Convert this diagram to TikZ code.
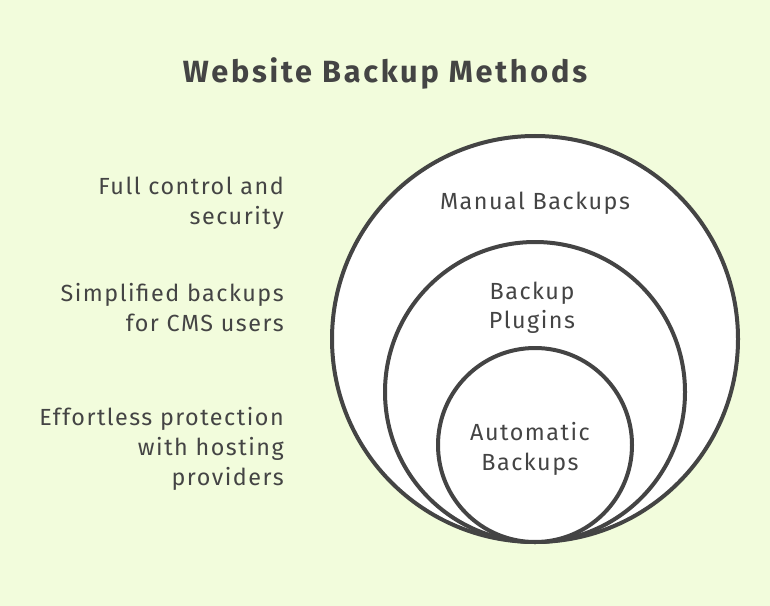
\documentclass[tikz,border=0pt]{standalone}
\usepackage{fontspec}
\setmainfont{Fira Sans}
\definecolor{bgc}{RGB}{242,252,220}
\definecolor{ink}{RGB}{68,68,68}
\begin{document}
\begin{tikzpicture}[x=0.75pt,y=-0.75pt,
  ring/.style={draw=ink,line width=3pt,fill=white},
  lbl/.style={text=ink,font=\fontsize{17.5}{22}\selectfont\addfontfeature{LetterSpace=6.5},align=center},
  side/.style={text=ink,font=\fontsize{17.5}{22.5}\selectfont\addfontfeature{LetterSpace=6.5},align=right,anchor=east,inner sep=0pt},
  ttl/.style={text=ink,font=\fontsize{23}{25}\selectfont\bfseries\addfontfeature{LetterSpace=9}}]
\fill[bgc] (0,0) rectangle (770,606);
\useasboundingbox (0,0) rectangle (770,606);
\node[ttl] (title) at (385,73) {Website Backup Methods};
\draw[ring] (535,339) circle[radius=203];
\draw[ring] (535,392) circle[radius=150];
\draw[ring] (535,445) circle[radius=97];
\node[lbl] (manual) at (535,203) {Manual Backups};
\node[lbl] (plugins) at (532,308) {Backup\\Plugins};
\node[lbl] (auto) at (530,449) {Automatic\\Backups};
\node[side] (d1) at (284,203) {Full control and\\security};
\node[side] (d2) at (284,308) {Simplified backups\\for CMS users};
\node[side] (d3) at (284,449) {Effortless protection\\with hosting\\providers};
\end{tikzpicture}
\end{document}
